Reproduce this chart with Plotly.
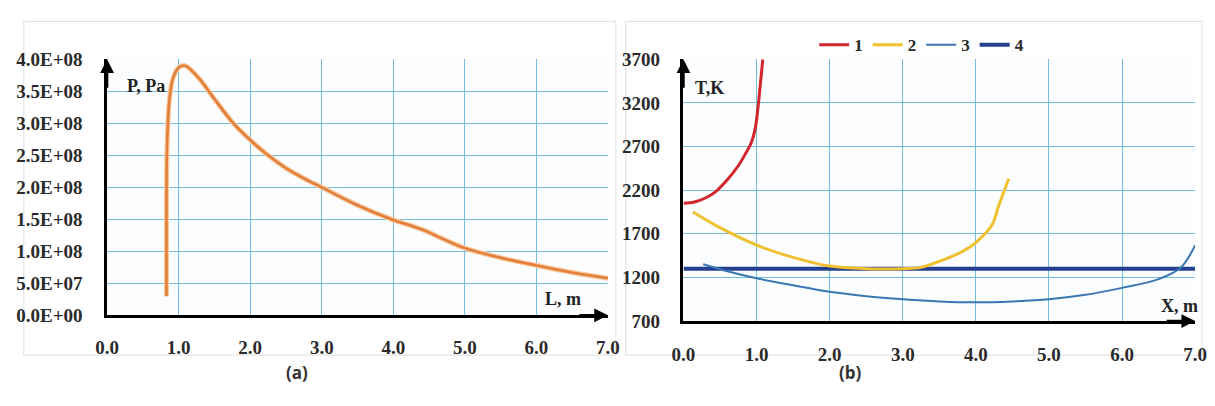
import plotly.graph_objects as go

# ---------------- data: panel (a) pressure ----------------
p_len = [0.83, 0.83, 0.835, 0.85, 0.87, 0.92, 1.0, 1.09, 1.27, 1.5, 1.75, 2.0, 2.25, 2.5,
         2.75, 3.0, 3.5, 4.0, 4.25, 4.45, 4.7, 5.0, 5.5, 6.0, 6.5, 7.0]
p_val = [3.0e7, 1.5e8, 2.5e8, 3.0e8, 3.35e8, 3.7e8, 3.87e8, 3.9e8, 3.72e8, 3.38e8, 3.02e8,
         2.74e8, 2.5e8, 2.3e8, 2.14e8, 2.0e8, 1.72e8, 1.49e8, 1.40e8, 1.32e8, 1.19e8,
         1.05e8, 0.9e8, 0.78e8, 0.67e8, 0.58e8]
p_ticks = [0, 5e7, 1e8, 1.5e8, 2e8, 2.5e8, 3e8, 3.5e8, 4e8]
p_ticktext = ["0.0E+00", "5.0E+07", "1.0E+08", "1.5E+08", "2.0E+08", "2.5E+08",
              "3.0E+08", "3.5E+08", "4.0E+08"]
x_ticks = [0, 1, 2, 3, 4, 5, 6, 7]
x_ticktext = ["0.0", "1.0", "2.0", "3.0", "4.0", "5.0", "6.0", "7.0"]

# ---------------- data: panel (b) temperature ----------------
t1_x = [0.0, 0.15, 0.3, 0.45, 0.6, 0.75, 0.85, 0.93, 0.98, 1.02, 1.05, 1.085]
t1_y = [2050, 2065, 2110, 2190, 2320, 2480, 2620, 2750, 2900, 3150, 3400, 3700]
t2_x = [0.13, 0.5, 1.0, 1.5, 2.0, 2.5, 3.0, 3.25, 3.55, 3.8, 4.0, 4.22, 4.31, 4.45]
t2_y = [1950, 1770, 1570, 1430, 1330, 1300, 1300, 1315, 1400, 1490, 1600, 1800, 2015, 2330]
t3_x = [0.27, 0.6, 1.0, 1.5, 2.0, 2.5, 3.0, 3.5, 4.0, 4.5, 5.0, 5.5, 6.0, 6.5, 6.8, 7.0]
t3_y = [1350, 1270, 1190, 1110, 1035, 985, 950, 925, 915, 925, 950, 1000, 1080, 1180, 1310, 1570]
t4_x = [0.0, 7.0]
t4_y = [1300, 1300]
t_ticks = [700, 1200, 1700, 2200, 2700, 3200, 3700]
series_names = ["1", "2", "3", "4"]

W, H = 1215, 406
GRID = "#74bddb"
TICKFONT = dict(family="Liberation Serif", size=19, color="#2a2a2a", weight="bold")
SMOOTH = 1.0

fig = go.Figure()

fig.add_trace(go.Scatter(x=p_len, y=p_val, mode="lines", showlegend=False,
                         line=dict(color="#f8c89c", width=5, shape="spline", smoothing=SMOOTH),
                         xaxis="x", yaxis="y", hoverinfo="skip"))
fig.add_trace(go.Scatter(x=p_len, y=p_val, mode="lines", showlegend=False,
                         line=dict(color="#e27f3a", width=2.6, shape="spline", smoothing=SMOOTH),
                         xaxis="x", yaxis="y"))

fig.add_trace(go.Scatter(x=t4_x, y=t4_y, mode="lines", name=series_names[3],
                         line=dict(color="#24408f", width=4), xaxis="x2", yaxis="y2",
                         legendrank=4))
fig.add_trace(go.Scatter(x=t1_x, y=t1_y, mode="lines", name=series_names[0],
                         line=dict(color="#d3262c", width=3, shape="spline", smoothing=SMOOTH),
                         xaxis="x2", yaxis="y2", legendrank=1))
fig.add_trace(go.Scatter(x=t2_x, y=t2_y, mode="lines", name=series_names[1],
                         line=dict(color="#f1c02f", width=3, shape="spline", smoothing=SMOOTH),
                         xaxis="x2", yaxis="y2", legendrank=2))
fig.add_trace(go.Scatter(x=t3_x, y=t3_y, mode="lines", name=series_names[2],
                         line=dict(color="#3b77b3", width=2, shape="spline", smoothing=SMOOTH),
                         xaxis="x2", yaxis="y2", legendrank=3))

axis_common = dict(showgrid=True, gridcolor=GRID, gridwidth=1.3, zeroline=False,
                   showline=True, linecolor="black", linewidth=2.5, mirror=False,
                   ticks="", tickfont=TICKFONT, fixedrange=True)

fig.update_layout(
    width=W, height=H,
    margin=dict(l=0, r=0, t=0, b=0),
    paper_bgcolor="white",
    plot_bgcolor="#fbfdff",
    xaxis=dict(domain=[97 / W, 608 / W], range=[0, 7], tickvals=x_ticks, ticktext=x_ticktext,
               anchor="y", ticklabelstandoff=13, **axis_common),
    yaxis=dict(domain=[84 / H, 354 / H], range=[0, 4e8], tickvals=p_ticks, ticktext=p_ticktext,
               anchor="x", ticklabelstandoff=18, **axis_common),
    xaxis2=dict(domain=[685 / W, 1207 / W], range=[0, 7], tickvals=x_ticks, ticktext=x_ticktext,
                anchor="y2", ticklabelstandoff=14, **axis_common),
    yaxis2=dict(domain=[78 / H, 354 / H], range=[700, 3700], tickvals=t_ticks,
                anchor="x2", ticklabelstandoff=17, **axis_common),
    legend=dict(orientation="h", x=928 / W, xanchor="center", y=1 - 37 / H, yanchor="middle",
                font=dict(family="Liberation Serif", size=17, color="#2a2a2a", weight="bold"),
                bgcolor="rgba(0,0,0,0)", itemwidth=30, tracegroupgap=0),
    showlegend=True,
)

# panel frames
fig.add_shape(type="rect", xref="paper", yref="paper", x0=12 / W, x1=616 / W,
              y0=1 - 364 / H, y1=1 - 12 / H, line=dict(color="#e4e4e4", width=1.2),
              fillcolor="rgba(0,0,0,0)", layer="below")
fig.add_shape(type="rect", xref="paper", yref="paper", x0=626 / W, x1=1214 / W,
              y0=1 - 364 / H, y1=1 - 12 / H, line=dict(color="#e4e4e4", width=1.2),
              fillcolor="rgba(0,0,0,0)", layer="below")

LBL = dict(family="Liberation Serif", size=18, color="#222222", weight="bold")
CAP = dict(family="Open Sans", size=17, color="#333333", weight="bold")
ann = [
    # axis arrows
    dict(x=0, y=4e8, xref="x", yref="y", ax=0, ay=30, showarrow=True, arrowhead=2,
         arrowsize=1.1, arrowwidth=2.5, arrowcolor="black", text=""),
    dict(x=7, y=0, xref="x", yref="y", ax=-30, ay=0, showarrow=True, arrowhead=2,
         arrowsize=1.1, arrowwidth=2.5, arrowcolor="black", text=""),
    dict(x=0, y=3700, xref="x2", yref="y2", ax=0, ay=30, showarrow=True, arrowhead=2,
         arrowsize=1.1, arrowwidth=2.5, arrowcolor="black", text=""),
    dict(x=7, y=700, xref="x2", yref="y2", ax=-30, ay=0, showarrow=True, arrowhead=2,
         arrowsize=1.1, arrowwidth=2.5, arrowcolor="black", text=""),
    # axis names
    dict(x=0.55, y=3.58e8, xref="x", yref="y", text="P, Pa", showarrow=False, font=LBL),
    dict(x=6.37, y=2.5e7, xref="x", yref="y", text="L, m", showarrow=False, font=LBL),
    dict(x=0.36, y=3374, xref="x2", yref="y2", text="T,K", showarrow=False, font=LBL),
    dict(x=6.78, y=874, xref="x2", yref="y2", text="X, m", showarrow=False, font=LBL),
    # panel captions
    dict(x=279 / W, y=1 - 395 / H, xref="paper", yref="paper", text="(a)", showarrow=False,
         font=CAP, borderpad=0),
    dict(x=868 / W, y=1 - 395 / H, xref="paper", yref="paper", text="(b)", showarrow=False,
         font=CAP, borderpad=0),
]
fig.update_layout(annotations=ann)

fig.write_html("out.html", config={"displayModeBar": False},
               post_script="document.body.style.margin='0';")
